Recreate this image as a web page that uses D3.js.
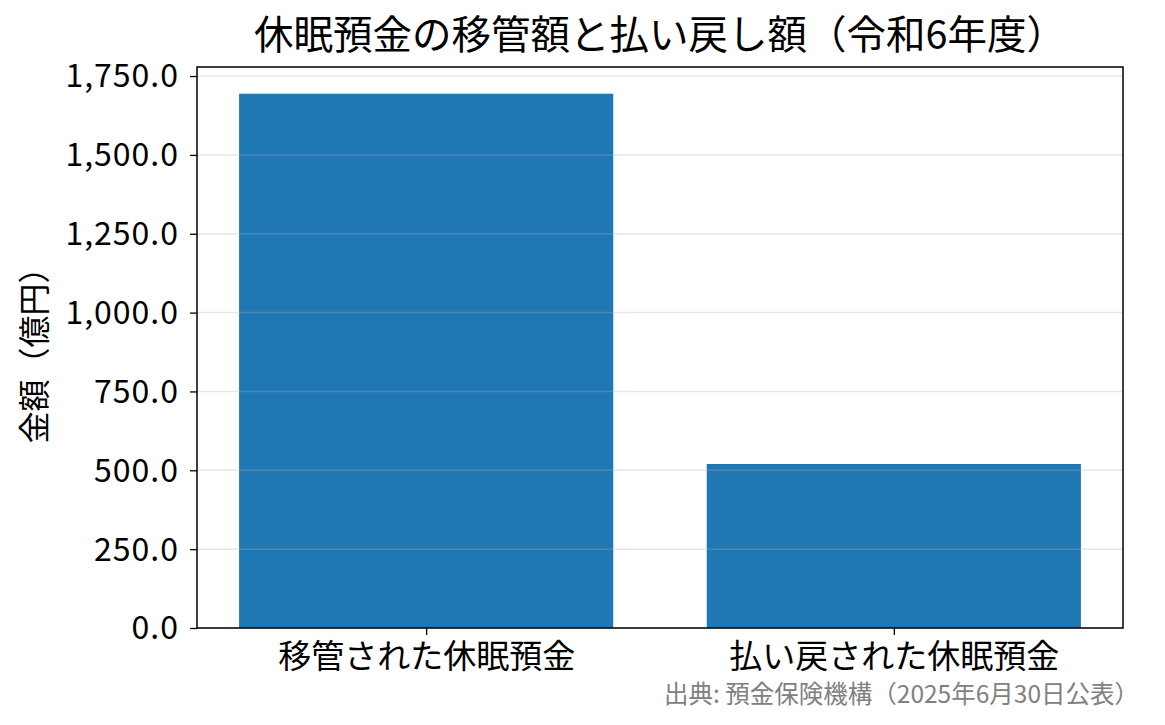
<!DOCTYPE html>
<html>
<head>
<meta charset="utf-8">
<script src="https://cdn.jsdelivr.net/npm/d3@7"></script>
<style>
  body { margin: 0; background: #fff; }
  svg text { font-family: "Noto Sans CJK JP", "Noto Sans", sans-serif; }
</style>
</head>
<body>
<div id="chart"></div>
<script>
// data (億円)
var categories = ["移管された休眠預金", "払い戻された休眠預金"];
var amounts = [1694, 520];
var yTicks = [0, 250, 500, 750, 1000, 1250, 1500, 1750];
var titleText = "休眠預金の移管額と払い戻し額（令和6年度）";
var yLabelText = "金額（億円）";
var sourceText = "出典: 預金保険機構（2025年6月30日公表）";

var w = 1165, h = 725;
var margin = {top: 67, right: 42, bottom: 97, left: 197};

var svg = d3.select("#chart").append("svg")
	.attr("width", w)
	.attr("height", h);

// x as a linear scale so the matplotlib-like margins come out right
var x = d3.scaleLinear()
	.domain([-0.49, 1.49])
	.range([margin.left, w - margin.right]);
var barWidth = 0.8;

var yMax = d3.max(amounts) * 1.05;
var y = d3.scaleLinear()
	.domain([0, yMax])
	.range([h - margin.bottom, margin.top]);

// bars
svg.selectAll("rect.bar")
	.data(amounts).enter().append("rect")
	.attr("class", "bar")
	.attr("x", function(d, i) { return x(i - barWidth / 2); })
	.attr("width", function(d, i) { return x(i + barWidth / 2) - x(i - barWidth / 2); })
	.attr("y", function(d) { return y(d); })
	.attr("height", function(d) { return y(0) - y(d); })
	.attr("fill", "#1f77b4");

// horizontal grid, drawn over the bars with some transparency
svg.append("g")
	.selectAll("line")
	.data(yTicks).enter().append("line")
	.attr("x1", margin.left)
	.attr("x2", w - margin.right)
	.attr("y1", function(d) { return y(d); })
	.attr("y2", function(d) { return y(d); })
	.attr("stroke", "#b0b0b0")
	.attr("stroke-opacity", 0.3)
	.attr("stroke-width", 1.5);

// y axis
var yAxis = svg.append("g")
	.attr("transform", "translate(" + margin.left + ",0)")
	.call(d3.axisLeft(y).tickValues(yTicks).tickSize(7).tickPadding(11)
		.tickFormat(function(d) { return d3.format(",.1f")(d); }));
yAxis.select(".domain").remove();
yAxis.selectAll("line").attr("stroke", "#000").attr("stroke-width", 1.3);
yAxis.selectAll("text").attr("font-size", 32).attr("fill", "#000")
	.attr("letter-spacing", 1).attr("dy", "0.34em");

// x axis
var xAxis = svg.append("g")
	.attr("transform", "translate(0," + (h - margin.bottom) + ")")
	.call(d3.axisBottom(x).tickValues(d3.range(categories.length)).tickSize(7).tickPadding(6)
		.tickFormat(function(d) { return categories[d]; }));
xAxis.select(".domain").remove();
xAxis.selectAll("line").attr("stroke", "#000").attr("stroke-width", 1.3);
xAxis.selectAll("text").attr("font-size", 33).attr("fill", "#000").attr("dy", "0.82em");

// frame
svg.append("rect")
	.attr("x", margin.left)
	.attr("y", margin.top)
	.attr("width", w - margin.left - margin.right)
	.attr("height", h - margin.top - margin.bottom)
	.attr("fill", "none")
	.attr("stroke", "#000")
	.attr("stroke-width", 1.5);

// title
svg.append("text")
	.attr("x", (margin.left + w - margin.right) / 2)
	.attr("y", 49)
	.attr("text-anchor", "middle")
	.attr("font-size", 39.5)
	.attr("fill", "#000")
	.text(titleText);

// y label
svg.append("text")
	.attr("transform", "translate(46," + ((margin.top + h - margin.bottom) / 2) + ") rotate(-90)")
	.attr("text-anchor", "middle")
	.attr("font-size", 32)
	.attr("fill", "#000")
	.text(yLabelText);

// source note
svg.append("text")
	.attr("x", 1139)
	.attr("y", 703)
	.attr("text-anchor", "end")
	.attr("font-size", 24.5)
	.attr("fill", "#808080")
	.text(sourceText);
</script>
</body>
</html>
